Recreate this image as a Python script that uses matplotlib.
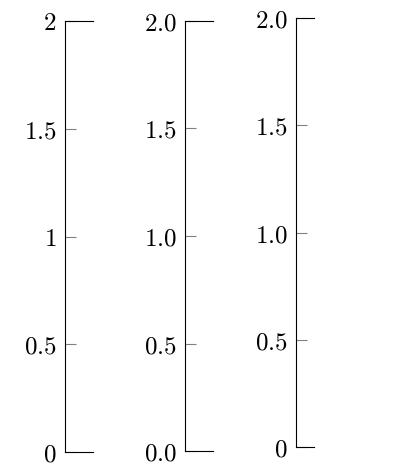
import matplotlib
matplotlib.use("Agg")
import matplotlib.pyplot as plt

plt.rcParams['mathtext.fontset'] = 'cm'

ticks = [0, 0.5, 1, 1.5, 2]
labels1 = ["0", "0.5", "1", "1.5", "2"]
labels2 = ["0.0", "0.5", "1.0", "1.5", "2.0"]
labels3 = ["0", "0.5", "1.0", "1.5", "2.0"]

fig = plt.figure(figsize=(4, 4.76), dpi=100)
rects = [
    [0.1625, 0.0504, 0.07, 0.9055],
    [0.4625, 0.0525, 0.07, 0.9034],
    [0.74, 0.0609, 0.045, 0.901],
]
for rect, labs in zip(rects, [labels1, labels2, labels3]):
    ax = fig.add_axes(rect)
    ax.set_ylim(0, 2)
    ax.set_xticks([])
    ax.set_yticks(ticks)
    ax.set_yticklabels(["$" + s + "$" for s in labs], fontsize=18)
    ax.tick_params(axis='y', direction='in', length=8, color='gray', pad=6)
    ax.spines['right'].set_visible(False)
    for s in ax.spines.values():
        s.set_linewidth(0.8)

fig.savefig("out.png", dpi=100)
